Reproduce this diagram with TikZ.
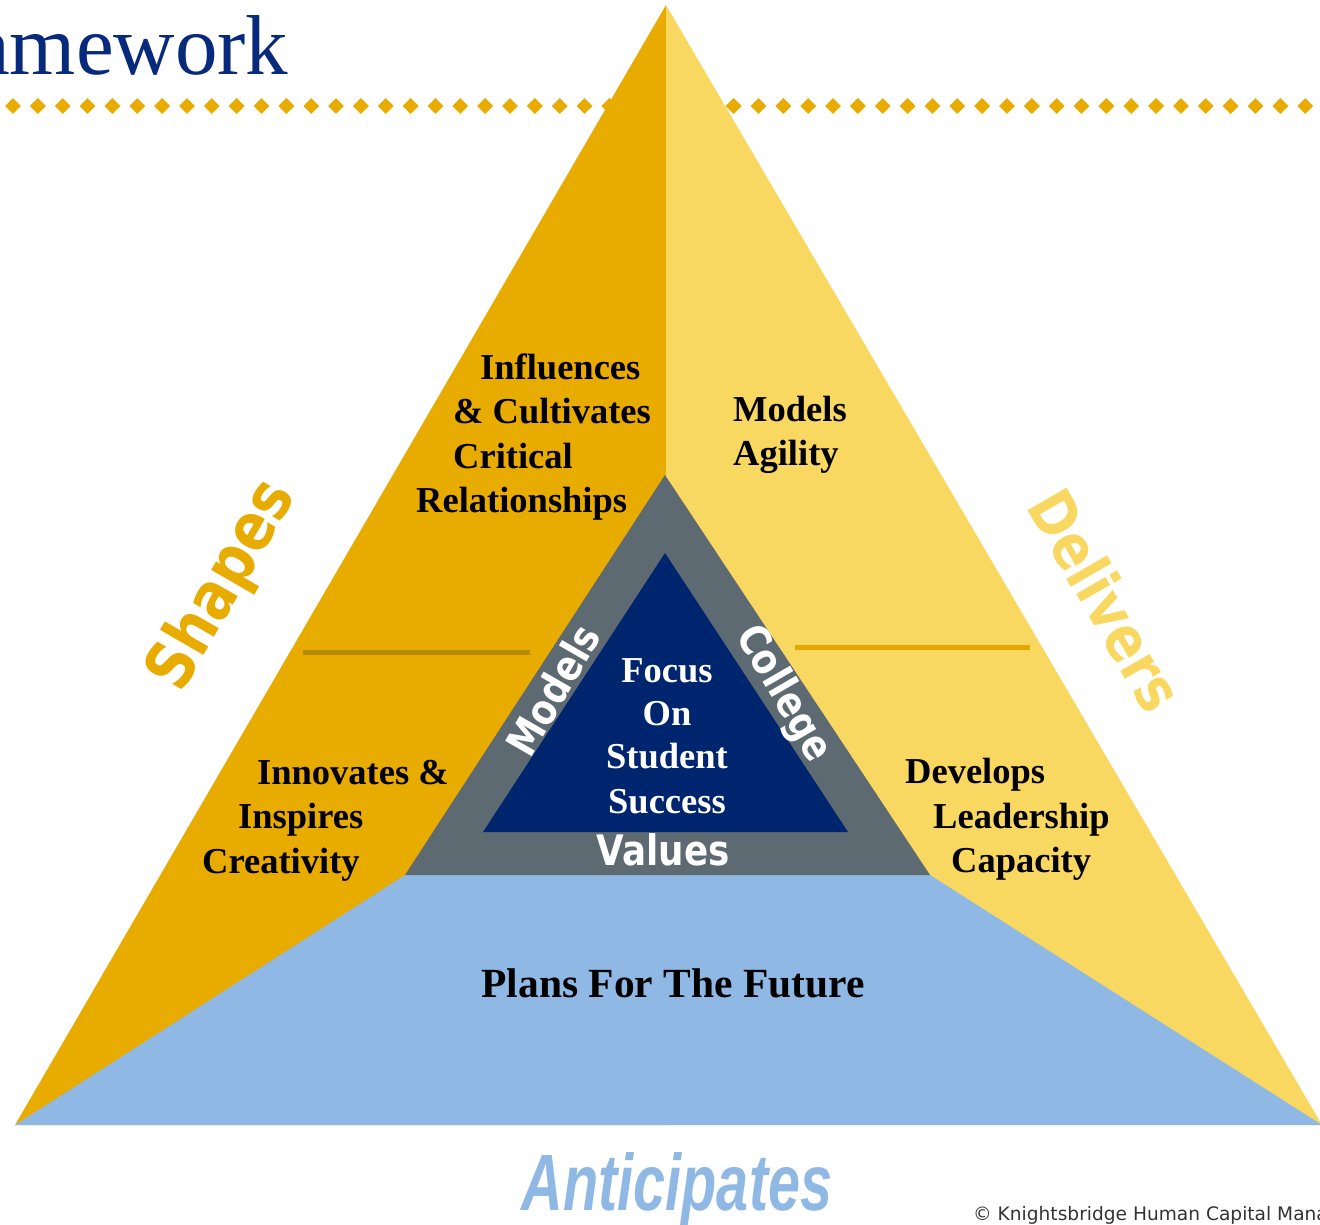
\documentclass[tikz,border=0pt]{standalone}
\usepackage{fontspec}
\setmainfont{Liberation Serif}
\newfontfamily\wordfont[FakeStretch=0.85]{DejaVu Sans}
\newfontfamily\antfont[FakeStretch=0.72]{Liberation Sans}
\newfontfamily\notefont{DejaVu Sans}
\usetikzlibrary{shapes.geometric}
\definecolor{titleblue}{RGB}{8,42,125}
\definecolor{shapegold}{RGB}{232,171,0}
\definecolor{delivyellow}{RGB}{249,216,98}
\definecolor{planblue}{RGB}{143,185,228}
\definecolor{valgray}{RGB}{94,106,114}
\definecolor{focusnavy}{RGB}{0,37,111}
\definecolor{ruledark}{RGB}{184,138,0}
\definecolor{rulegold}{RGB}{230,168,0}
\tikzstyle{dot}=[diamond, fill=shapegold, inner sep=0pt, minimum width=16pt, minimum height=16pt]
\tikzstyle{line}=[anchor=base west, inner sep=0pt, font=\fontsize{36.5}{36.5}\selectfont\bfseries]
\tikzstyle{focus}=[anchor=base, inner sep=0pt, text=white, font=\fontsize{36.5}{36.5}\selectfont\bfseries]
\tikzstyle{word}=[inner sep=0pt, font=\wordfont\bfseries\fontsize{42}{42}\selectfont]
\tikzstyle{bigword}=[inner sep=0pt, font=\wordfont\bfseries\fontsize{66}{66}\selectfont]

\begin{document}
\begin{tikzpicture}[x=1pt,y=-1pt]
    \useasboundingbox (0,0) rectangle (1320,1225);
    \node (title) [anchor=base west, inner sep=0pt, text=titleblue, font=\fontsize{85}{85}\selectfont] at (-28,75) {amework};
    \foreach \i in {0,...,52}
        \node (dot\i) [dot] at (13+24.85*\i,106) {};
    % corners of the three triangles
    \coordinate (top) at (666,5);
    \coordinate (bl)  at (15,1125);
    \coordinate (br)  at (1322,1125);
    \coordinate (bm)  at (666,1125);
    \coordinate (gt)  at (665,475);
    \coordinate (gl)  at (405,875);
    \coordinate (gr)  at (930,875);
    \coordinate (nt)  at (665,553);
    \coordinate (nl)  at (483,832);
    \coordinate (nr)  at (848,832);
    \fill [shapegold]   (top) -- (bl) -- (bm) -- cycle;
    \fill [delivyellow] (top) -- (bm) -- (br) -- cycle;
    \fill [planblue]    (gl) -- (gr) -- (br) -- (bl) -- cycle;
    \fill [valgray]     (gt) -- (gr) -- (gl) -- cycle;
    \fill [focusnavy]   (nt) -- (nr) -- (nl) -- cycle;
    \draw [line width=5pt, ruledark] (303,652) -- (530,652);
    \draw [line width=5pt, rulegold] (795,647) -- (1030,647);
    % upper left
    \node (infl) [line] at (480,379) {Influences};
    \node (cult) [line] at (453,423) {\& Cultivates};
    \node (crit) [line] at (453,468) {Critical};
    \node (rela) [line] at (416,512) {Relationships};
    % upper right
    \node (mod) [line] at (733,421) {Models};
    \node (agi) [line] at (733,465) {Agility};
    % lower left
    \node (inno) [line] at (257,784) {Innovates \&};
    \node (insp) [line] at (238,828) {Inspires};
    \node (crea) [line] at (202,873) {Creativity};
    % lower right
    \node (deve) [line] at (905,783) {Develops};
    \node (lead) [line] at (933,828) {Leadership};
    \node (capa) [line] at (951,872) {Capacity};
    \node (plan) [line, anchor=base, font=\fontsize{41.5}{41.5}\selectfont\bfseries] at (673,997) {Plans For The Future};
    % centre
    \node (fo) [focus] at (667,682) {Focus};
    \node (on) [focus] at (667,725) {On};
    \node (st) [focus] at (667,768) {Student};
    \node (su) [focus] at (667,813) {Success};
    \node (val) [word, anchor=base, text=white] at (663,865) {Values};
    \node (mdl) [word, text=white, rotate=60]  at (553,690) {Models};
    \node (col) [word, text=white, rotate=-60] at (783,694) {College};
    \node (shp) [bigword, text=shapegold, rotate=60]    at (223,586) {Shapes};
    \node (dlv) [bigword, text=delivyellow, rotate=-60, font=\wordfont\bfseries\fontsize{62}{62}\selectfont] at (1106,600) {Delivers};
    \node (ant) [anchor=base, inner sep=0pt, text=planblue, font=\antfont\bfseries\itshape\fontsize{80}{80}\selectfont] at (677,1210) {Anticipates};
    \node (copy) [anchor=base west, inner sep=0pt, text=black!80, font=\notefont\fontsize{18.6}{18.6}\selectfont] at (973,1220) {© Knightsbridge Human Capital Mana};
\end{tikzpicture}
\end{document}
